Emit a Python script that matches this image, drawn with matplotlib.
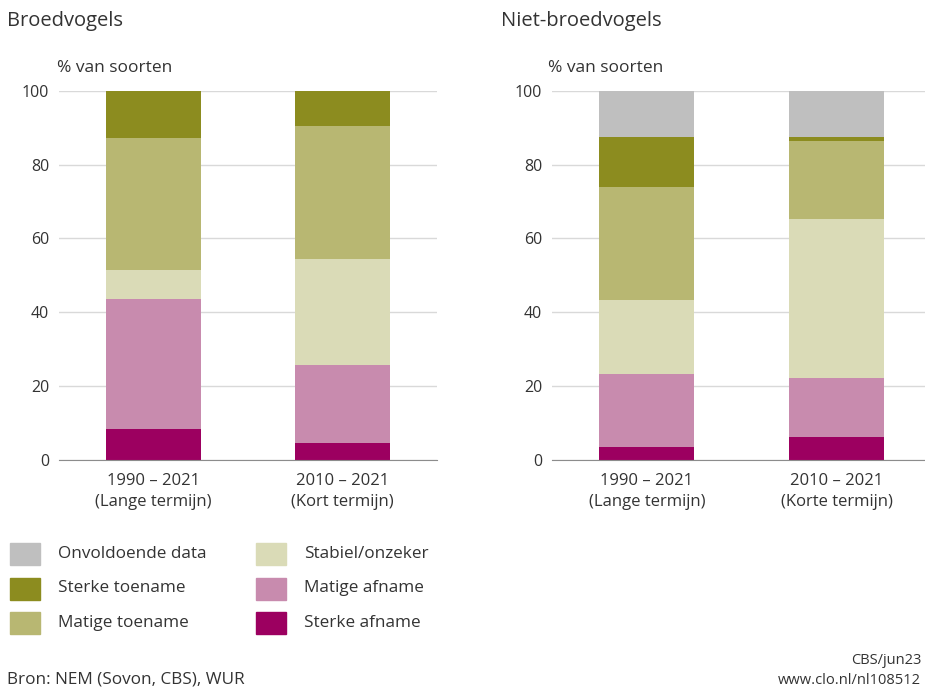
import matplotlib
matplotlib.use("Agg")
import matplotlib.pyplot as plt
from matplotlib.patches import Rectangle

plt.rcParams['font.family'] = ['Open Sans', 'DejaVu Sans']

# categories, bottom to top
categorieen = ["Sterke afname", "Matige afname", "Stabiel/onzeker",
               "Matige toename", "Sterke toename", "Onvoldoende data"]
kleuren = ["#9c0060", "#c88bae", "#dadbb7", "#b8b772", "#8c8c1f", "#bfbfbf"]

perioden_broed = ["1990 – 2021\n(Lange termijn)", "2010 – 2021\n(Kort termijn)"]
perioden_niet = ["1990 – 2021\n(Lange termijn)", "2010 – 2021\n(Korte termijn)"]

# % van soorten per category, [lange termijn, korte termijn]
broedvogels = {
    "Sterke afname": [8.2, 4.6],
    "Matige afname": [35.3, 21.1],
    "Stabiel/onzeker": [7.8, 28.8],
    "Matige toename": [36.0, 35.9],
    "Sterke toename": [12.7, 9.6],
    "Onvoldoende data": [0.0, 0.0],
}
niet_broedvogels = {
    "Sterke afname": [3.4, 6.1],
    "Matige afname": [19.9, 15.9],
    "Stabiel/onzeker": [19.9, 43.4],
    "Matige toename": [30.8, 20.9],
    "Sterke toename": [13.5, 1.2],
    "Onvoldoende data": [12.5, 12.5],
}

W, H = 925, 689
fig = plt.figure(figsize=(W / 100, H / 100), dpi=100)
tekst = "#333333"


def teken(ax, data, labels, xmax):
    bottom = [0, 0]
    for cat, kl in zip(categorieen, kleuren):
        vals = data[cat]
        ax.bar([0, 1], vals, width=0.5, bottom=bottom, color=kl, zorder=3)
        bottom = [b + v for b, v in zip(bottom, vals)]
    ax.set_ylim(0, 100)
    ax.set_xlim(-0.5, xmax)
    ax.set_yticks([0, 20, 40, 60, 80, 100])
    ax.set_xticks([0, 1])
    ax.set_xticklabels(labels, fontsize=12, color=tekst, linespacing=1.35)
    ax.tick_params(axis='y', length=0, labelsize=11.5, colors=tekst, pad=7)
    ax.tick_params(axis='x', length=0, pad=10)
    ax.grid(axis='y', color="#d9d9d9", linewidth=1, zorder=0)
    for s in ["left", "right", "top"]:
        ax.spines[s].set_visible(False)
    ax.spines["bottom"].set_color("#8c8c8c")
    ax.spines["bottom"].set_zorder(4)


ax1 = fig.add_axes([59 / W, 1 - 459.5 / H, 378 / W, 368.5 / H])
teken(ax1, broedvogels, perioden_broed, 1.5)
ax2 = fig.add_axes([552 / W, 1 - 459.5 / H, 373 / W, 368.5 / H])
teken(ax2, niet_broedvogels, perioden_niet, 1.465)

fig.text(7 / W, 1 - 21 / H, "Broedvogels", fontsize=14.5, color=tekst, va="center")
fig.text(501 / W, 1 - 21 / H, "Niet-broedvogels", fontsize=14.5, color=tekst, va="center")
fig.text(57 / W, 1 - 68 / H, "% van soorten", fontsize=12.5, color=tekst, va="center")
fig.text(548 / W, 1 - 68 / H, "% van soorten", fontsize=12.5, color=tekst, va="center")

# legend, two columns of three
volgorde = [["Onvoldoende data", "Sterke toename", "Matige toename"],
            ["Stabiel/onzeker", "Matige afname", "Sterke afname"]]
kolom_x = [10, 256]
for k, kolom in enumerate(volgorde):
    for r, cat in enumerate(kolom):
        yc = 554 + r * 34.5
        kl = kleuren[categorieen.index(cat)]
        fig.patches.append(Rectangle((kolom_x[k] / W, 1 - (yc + 11) / H), 30 / W, 22 / H,
                                     transform=fig.transFigure, color=kl))
        fig.text((kolom_x[k] + 48) / W, 1 - yc / H, cat, fontsize=12.3, color=tekst, va="center")

fig.text(7 / W, 1 - 679 / H, "Bron: NEM (Sovon, CBS), WUR", fontsize=12.3, color=tekst, va="center")
fig.text(921 / W, 1 - 660 / H, "CBS/jun23", fontsize=10.5, color=tekst, va="center", ha="right")
fig.text(921 / W, 1 - 680 / H, "www.clo.nl/nl108512", fontsize=10.5, color=tekst, va="center", ha="right")

fig.savefig("out.png", dpi=100)
